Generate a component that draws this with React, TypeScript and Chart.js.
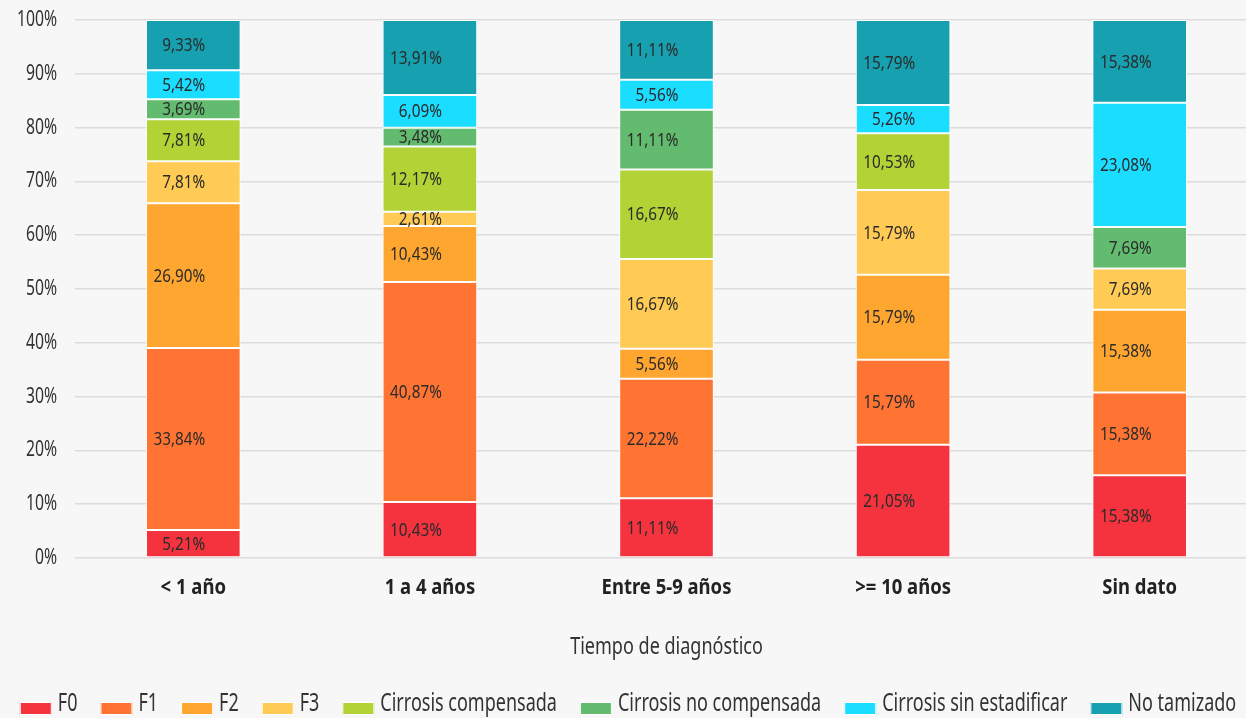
import React, { useEffect, useRef } from "react";
import { Chart, registerables } from "chart.js";

Chart.register(...registerables);

const categories = ["< 1 año", "1 a 4 años", "Entre 5-9 años", ">= 10 años", "Sin dato"];
const seriesNames = ["F0", "F1", "F2", "F3", "Cirrosis compensada", "Cirrosis no compensada", "Cirrosis sin estadificar", "No tamizado"];
const f0 = [5.21, 10.43, 11.11, 21.05, 15.38];
const f1 = [33.84, 40.87, 22.22, 15.79, 15.38];
const f2 = [26.9, 10.43, 5.56, 15.79, 15.38];
const f3 = [7.81, 2.61, 16.67, 15.79, 7.69];
const cirrosisCompensada = [7.81, 12.17, 16.67, 10.53, 0];
const cirrosisNoCompensada = [3.69, 3.48, 11.11, 0, 7.69];
const cirrosisSinEstadificar = [5.42, 6.09, 5.56, 5.26, 23.08];
const noTamizado = [9.33, 13.91, 11.11, 15.79, 15.38];
const seriesValues = [f0, f1, f2, f3, cirrosisCompensada, cirrosisNoCompensada, cirrosisSinEstadificar, noTamizado];
const seriesColors = ["#F5333F", "#FF7433", "#FFA630", "#FFCB55", "#B2D235", "#62BB6E", "#1BDDFF", "#16A0B0"];
const yTicks = [0, 10, 20, 30, 40, 50, 60, 70, 80, 90, 100];

const FONT = "'Noto Sans', sans-serif";

// horizontal squeeze factor per font, to emulate the condensed face of the original
function squeezeFor(font: string): number {
  const m = /(\d+(?:\.\d+)?)px/.exec(font);
  const size = m ? parseFloat(m[1]) : 12;
  if (/bold|700/.test(font)) return 0.88;
  if (size === 18) return 0.85;
  if (size === 21) return 0.75;
  if (size === 23) return 0.784;
  if (size === 25) return 0.72;
  return 0.82;
}

const labelPlugin = {
  id: "segLabels",
  afterDatasetsDraw(chart: any) {
    const ctx = chart.ctx;
    ctx.save();
    ctx.font = `normal 18px ${FONT}`;
    ctx.fillStyle = "#2b2b2b";
    ctx.textAlign = "right";
    ctx.textBaseline = "middle";
    chart.data.datasets.forEach((ds: any, i: number) => {
      const meta = chart.getDatasetMeta(i);
      meta.data.forEach((el: any, j: number) => {
        const v = ds.data[j];
        if (!v) return;
        const txt = v.toFixed(2).replace(".", ",") + "%";
        ctx.fillText(txt, el.x + 12, (el.y + el.base) / 2 + 1);
      });
    });
    ctx.restore();
  },
};

const legendPlugin = {
  id: "bottomLegend",
  afterDraw(chart: any) {
    const ctx = chart.ctx;
    ctx.save();
    ctx.font = `normal 25px ${FONT}`;
    ctx.textAlign = "left";
    ctx.textBaseline = "middle";
    const boxW = 32;
    const boxH = 13;
    const gapBox = 6;
    const gapItem = 23;
    const items = chart.data.datasets.map((ds: any) => ({
      text: ds.label,
      color: ds.backgroundColor,
      w: ctx.measureText(ds.label).width,
    }));
    const total = items.reduce((s: number, it: any) => s + boxW + gapBox + it.w, 0) + gapItem * (items.length - 1);
    let x = 628 - total / 2;
    const textY = 704;
    items.forEach((it: any) => {
      ctx.fillStyle = it.color;
      ctx.fillRect(x, textY - 2, boxW, boxH);
      ctx.strokeStyle = "#ffffff";
      ctx.lineWidth = 1;
      ctx.strokeRect(x + 0.5, textY - 2 + 0.5, boxW - 1, boxH - 1);
      ctx.fillStyle = "#333333";
      ctx.fillText(it.text, x + boxW + gapBox, textY);
      x += boxW + gapBox + it.w + gapItem;
    });
    ctx.restore();
  },
};

export default function App() {
  const ref = useRef<HTMLCanvasElement | null>(null);
  useEffect(() => {
    document.body.style.margin = "0";
    document.body.style.background = "#f7f7f7";
    document.body.style.overflow = "hidden";
    const canvas = ref.current as HTMLCanvasElement;
    const ctx = canvas.getContext("2d") as any;
    const origFill = ctx.fillText.bind(ctx);
    const origMeasure = ctx.measureText.bind(ctx);
    ctx.fillText = (t: string, x: number, y: number) => {
      const s = squeezeFor(ctx.font);
      ctx.save();
      ctx.translate(x, y);
      ctx.scale(s, 1);
      origFill(t, 0, 0);
      ctx.restore();
    };
    ctx.measureText = (t: string) => {
      const m = origMeasure(t);
      const s = squeezeFor(ctx.font);
      return {
        width: m.width * s,
        actualBoundingBoxAscent: m.actualBoundingBoxAscent,
        actualBoundingBoxDescent: m.actualBoundingBoxDescent,
        actualBoundingBoxLeft: m.actualBoundingBoxLeft * s,
        actualBoundingBoxRight: m.actualBoundingBoxRight * s,
        fontBoundingBoxAscent: m.fontBoundingBoxAscent,
        fontBoundingBoxDescent: m.fontBoundingBoxDescent,
      };
    };
    const chart = new Chart(canvas, {
      type: "bar",
      data: {
        labels: categories,
        datasets: seriesNames.map((name, i) => ({
          label: name,
          data: seriesValues[i],
          backgroundColor: seriesColors[i],
          borderColor: "#ffffff",
          borderWidth: 1,
          borderSkipped: false,
          barPercentage: 0.4,
          categoryPercentage: 1,
        })),
      },
      options: {
        responsive: false,
        animation: false,
        devicePixelRatio: 1,
        layout: { padding: { top: 20, left: 0, right: 0, bottom: 44 } },
        plugins: {
          tooltip: { enabled: false },
          legend: { display: false },
        },
        scales: {
          x: {
            stacked: true,
            grid: { display: false, drawTicks: false },
            border: { display: false },
            ticks: {
              padding: 17,
              color: "#222222",
              font: { family: FONT, size: 21, weight: "bold" },
              maxRotation: 0,
            },
            title: {
              display: true,
              text: "Tiempo de diagnóstico",
              color: "#333333",
              font: { family: FONT, size: 23 },
              padding: { top: 0, bottom: 13 },
            },
            afterFit(scale: any) {
              scale.height = 116;
            },
          },
          y: {
            stacked: true,
            min: 0,
            max: 100,
            afterBuildTicks(scale: any) {
              scale.ticks = yTicks.map((v) => ({ value: v }));
            },
            grid: { color: "#dcdcdc", lineWidth: 1.5, drawTicks: false },
            border: { display: false },
            ticks: {
              padding: 18,
              color: "#333333",
              font: { family: FONT, size: 21 },
              callback: (v: any) => v + "%",
            },
            afterFit(scale: any) {
              scale.width = 75;
              scale.paddingTop = 0;
              scale.paddingBottom = 0;
            },
          },
        },
      },
      plugins: [labelPlugin, legendPlugin],
    } as any);
    return () => chart.destroy();
  }, []);
  return (
    <div style={{ position: "fixed", left: 0, top: 0, width: "100vw", height: "100vh", background: "#f7f7f7", overflow: "hidden" }}>
      <canvas ref={ref} width={1258} height={718} style={{ position: "absolute", left: 0, top: 0 }} />
    </div>
  );
}
